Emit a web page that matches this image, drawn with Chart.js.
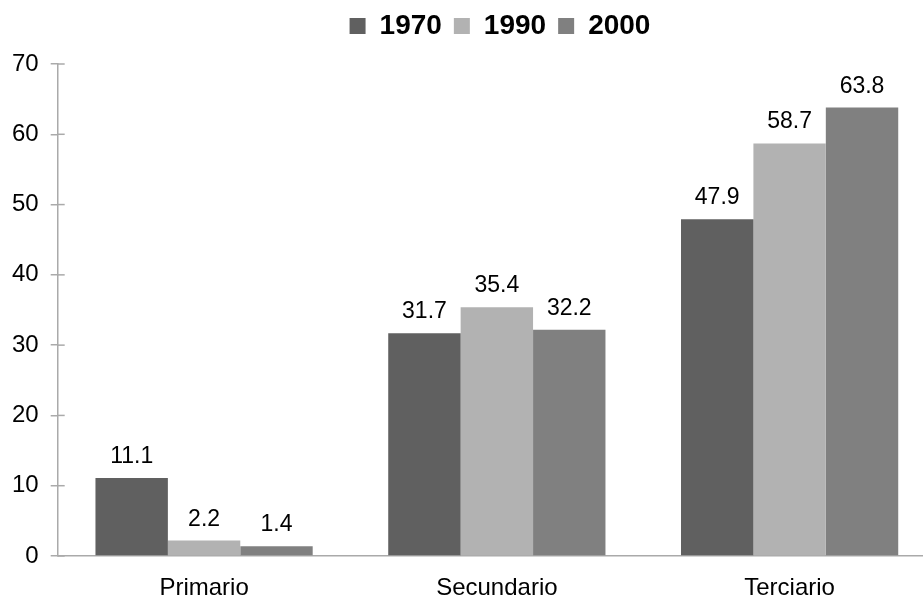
<!DOCTYPE html>
<html>
<head>
<meta charset="utf-8">
<script src="https://cdn.jsdelivr.net/npm/chart.js@4.4.0/dist/chart.umd.min.js"></script>
<style>
html,body{margin:0;padding:0;background:#fff;overflow:hidden;width:923px;height:601px;}
#wrap{position:absolute;left:0;top:0;width:936px;height:616px;}
</style>
</head>
<body>
<div id="wrap"><canvas id="c" width="936" height="616"></canvas></div>
<script>
const categories = ["Primario", "Secundario", "Terciario"];
const seriesNames = ["1970", "1990", "2000"];
const v1970 = [11.1, 31.7, 47.9];
const v1990 = [2.2, 35.4, 58.7];
const v2000 = [1.4, 32.2, 63.8];
const yTicks = [0, 10, 20, 30, 40, 50, 60, 70];
const colors = ["#606060", "#b2b2b2", "#808080"];

const SANS = '"Liberation Sans", Arial, sans-serif';

const labelPlugin = {
  id: 'valueLabels',
  beforeInit(chart) {
    const lg = chart.legend;
    if (lg) {
      const origFit = lg.fit;
      lg.fit = function() { origFit.call(this); this.height += 14; };
    }
  },
  afterLayout(chart) {
    const lg = chart.legend;
    if (lg) { lg.left += 32; lg.right += 32; }
  },
  afterDatasetsDraw(chart) {
    const ctx = chart.ctx;
    ctx.save();
    ctx.font = '23px ' + SANS;
    ctx.fillStyle = '#000';
    ctx.textAlign = 'center';
    ctx.textBaseline = 'alphabetic';
    chart.data.datasets.forEach((ds, i) => {
      chart.getDatasetMeta(i).data.forEach((bar, j) => {
        ctx.fillText(ds.data[j].toFixed(1), bar.x, bar.y - 15);
      });
    });
    const y = chart.scales.y;
    ctx.strokeStyle = '#aaaaaa';
    ctx.lineWidth = 1.5;
    y.ticks.forEach(t => {
      const py = y.getPixelForValue(t.value);
      ctx.beginPath();
      ctx.moveTo(y.right, py);
      ctx.lineTo(y.right + 7, py);
      ctx.stroke();
    });
    ctx.restore();
  }
};

new Chart(document.getElementById('c'), {
  type: 'bar',
  data: {
    labels: categories,
    datasets: [
      {label: seriesNames[0], data: v1970, backgroundColor: colors[0]},
      {label: seriesNames[1], data: v1990, backgroundColor: colors[1]},
      {label: seriesNames[2], data: v2000, backgroundColor: colors[2]}
    ]
  },
  options: {
    responsive: false,
    animation: false,
    layout: {padding: {left: 0, right: 0, top: 0, bottom: 4}},
    datasets: {bar: {barPercentage: 1.0, categoryPercentage: 0.742}},
    plugins: {
      legend: {
        position: 'top',
        labels: {
          font: {family: SANS, size: 28, weight: 'bold', lineHeight: 1},
          color: '#000',
          boxWidth: 16,
          boxHeight: 16,
          padding: 12
        }
      },
      tooltip: {enabled: false}
    },
    scales: {
      x: {
        grid: {display: false},
        border: {color: '#aaaaaa', width: 1.5},
        ticks: {font: {family: SANS, size: 24, lineHeight: 1}, color: '#000', padding: 12}
      },
      y: {
        min: 0, max: 70,
        afterBuildTicks(axis) { axis.ticks = yTicks.map(v => ({value: v})); },
        grid: {drawOnChartArea: false, drawTicks: true, tickLength: 7, color: '#aaaaaa', lineWidth: 1.5},
        border: {color: '#aaaaaa', width: 1.5},
        ticks: {font: {family: SANS, size: 24, lineHeight: 1}, color: '#000', padding: 12}
      }
    }
  },
  plugins: [labelPlugin]
});
</script>
</body>
</html>
